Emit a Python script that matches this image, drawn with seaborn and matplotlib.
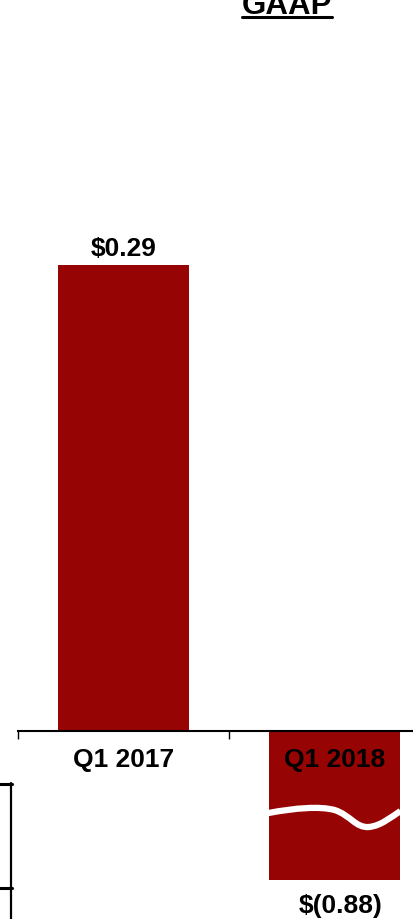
import matplotlib
matplotlib.use("Agg")
import matplotlib.pyplot as plt
from matplotlib.path import Path
from matplotlib.patches import PathPatch
from matplotlib.lines import Line2D
import seaborn as sns
import pandas as pd

# ---- data ----
categories = ["Q1 2017", "Q1 2018"]
eps_values = [0.29, -0.88]
value_labels = ["$0.29", "$(0.88)"]
title_text = "GAAP"
break_floor = -0.093   # negative bar drawn truncated (broken bar)

BAR_COLOR = "#960404"

sns.set_theme(style="white")
plt.rcParams["font.family"] = ["Liberation Sans", "DejaVu Sans"]
plt.rcParams["font.weight"] = "bold"

W, H = 413, 919
fig = plt.figure(figsize=(W / 100, H / 100), dpi=100)
ax = fig.add_axes([18 / W, 0, 395 / W, 1])

display_vals = [max(v, break_floor) for v in eps_values]
df = pd.DataFrame({"period": categories, "eps": display_vals})
sns.barplot(data=df, x="period", y="eps", color=BAR_COLOR, saturation=1,
            width=0.625, ax=ax, zorder=1)
for p in ax.patches:
    p.set_linewidth(0)
    x0 = p.get_x() + p.get_width() / 2
    p.set_width(0.625)
    p.set_x(x0 - 0.3125)

ax.set_axisbelow(False)
ax.set_xlim(-0.5, -0.5 + 395 / 211)
ax.set_ylim(-188 / 1607, 731 / 1607)
ax.set_xlabel("")
ax.set_ylabel("")
ax.set_yticks([])
for s in ["top", "right", "left"]:
    ax.spines[s].set_visible(False)
ax.spines["bottom"].set_position(("data", 0))
ax.spines["bottom"].set_color("black")
ax.spines["bottom"].set_linewidth(1.5)
ax.spines["bottom"].set_zorder(3)

ax.set_xticks([-0.5, 0.5], minor=True)
ax.tick_params(axis="x", which="minor", length=5.5, width=1.0, color="black",
               direction="out", bottom=True)
ax.tick_params(axis="x", which="major", length=0, pad=12, labelsize=19,
               labelcolor="black")
for lab in ax.get_xticklabels():
    lab.set_fontweight("bold")
    lab.set_zorder(4)

# value labels
for i, (v, dv, txt) in enumerate(zip(eps_values, display_vals, value_labels)):
    if v >= 0:
        ax.annotate(txt, (i, dv), xytext=(0, 2.5), textcoords="offset points",
                    ha="center", va="bottom", fontsize=19, fontweight="bold",
                    color="black")
    else:
        ax.annotate(txt, (i + 0.03, dv), xytext=(0, -10), textcoords="offset points",
                    ha="center", va="top", fontsize=19, fontweight="bold",
                    color="black")

# wavy break mark on the truncated bar (bar-relative fractions)
bw = 0.625
bi = 1
def bx(f):
    return bi - bw / 2 + f * bw
def by(px_from_axis):
    return -px_from_axis / 1607
verts = [(bx(0.0), by(82)),
         (bx(0.2), by(77)), (bx(0.39), by(75)), (bx(0.5), by(79)),
         (bx(0.62), by(84)), (bx(0.66), by(97)), (bx(0.76), by(96)),
         (bx(0.85), by(95)), (bx(0.93), by(86)), (bx(1.0), by(80))]
codes = [Path.MOVETO] + [Path.CURVE4] * 9
ax.add_patch(PathPatch(Path(verts, codes), facecolor="none", edgecolor="white",
                       linewidth=4.5, zorder=2, capstyle="butt"))

# title (cut at top, as in the source) with underline
fig.text(287 / W, 1 - 14 / H, title_text, ha="center", va="baseline",
         fontsize=22.5, fontweight="bold", color="black")
fig.add_artist(Line2D([242 / W, 332 / W], [1 - 16.5 / H, 1 - 16.5 / H],
                      color="black", linewidth=2.2, transform=fig.transFigure))

# fragment of neighbouring frame at left edge
fig.add_artist(Line2D([0, 12 / W], [1 - 784 / H] * 2, color="black",
                      linewidth=2.2, transform=fig.transFigure))
fig.add_artist(Line2D([0, 12 / W], [1 - 888 / H] * 2, color="black",
                      linewidth=2.2, transform=fig.transFigure))
fig.add_artist(Line2D([11 / W] * 2, [1 - 783 / H, 0], color="black",
                      linewidth=1.6, transform=fig.transFigure))

fig.savefig("out.png", dpi=100)
